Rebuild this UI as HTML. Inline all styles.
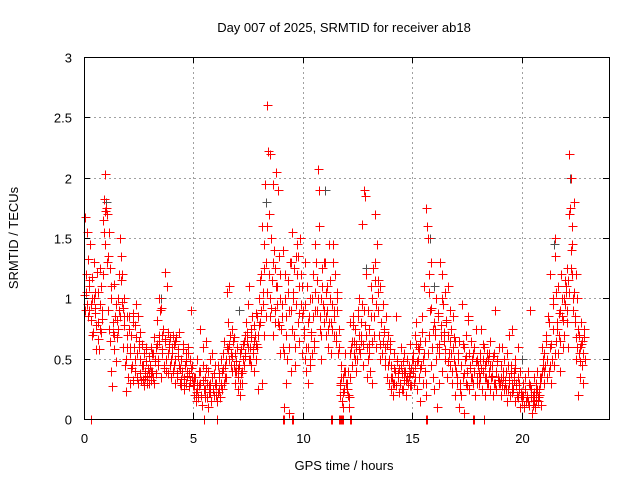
<!DOCTYPE html>
<html><head><meta charset="utf-8"><style>
body{margin:0;background:#fff;}
svg{display:block;font-family:"Liberation Sans",sans-serif;}
</style></head><body>
<svg id="chart" width="640" height="480" viewBox="0 0 640 480" xmlns="http://www.w3.org/2000/svg">
<rect x="0" y="0" width="640" height="480" fill="#fff"/>
<text x="344" y="32" font-size="13" text-anchor="middle" fill="#000">Day 007 of 2025, SRMTID for receiver ab18</text>
<text transform="translate(18,238) rotate(-90)" font-size="13" text-anchor="middle" fill="#000">SRMTID / TECUs</text>
<text x="344" y="470" font-size="13" text-anchor="middle" fill="#000">GPS time / hours</text>
<g id="grid"></g>
<g id="ticks"></g>
<g id="gray"></g>
<g id="pts" shape-rendering="crispEdges"></g>
<rect x="84.5" y="57.5" width="525" height="362" fill="none" stroke="#000" stroke-width="1"/>
</svg>
<script>
const xTicks=[0,5,10,15,20];
const yTicks=[0,0.5,1,1.5,2,2.5,3];
const yTickLabels=["0","0.5","1","1.5","2","2.5","3"];
const times=[
0.02,0.05,0.08,0.12,0.15,0.18,0.22,0.25,0.28,0.32,0.35,0.38,0.42,0.45,0.48,0.52,0.55,0.58,0.62,0.65,0.68,0.72,0.75,0.78,0.82,0.85,0.88,0.92,0.95,0.98,
1.02,1.05,1.08,1.12,1.15,1.18,1.22,1.25,1.28,1.32,1.35,1.38,1.42,1.45,1.48,1.52,1.55,1.58,1.62,1.65,1.68,1.72,1.75,1.78,1.82,1.85,1.88,1.92,1.95,1.98,
2.02,2.05,2.08,2.12,2.15,2.18,2.22,2.25,2.28,2.32,2.35,2.38,2.42,2.45,2.48,2.52,2.55,2.58,2.62,2.65,2.68,2.72,2.75,2.78,2.82,2.85,2.88,2.92,2.95,2.98,
3.02,3.05,3.08,3.12,3.15,3.18,3.22,3.25,3.28,3.32,3.35,3.38,3.42,3.45,3.48,3.52,3.55,3.58,3.62,3.65,3.68,3.72,3.75,3.78,3.82,3.85,3.88,3.92,3.95,3.98,
4.02,4.05,4.08,4.12,4.15,4.18,4.22,4.25,4.28,4.32,4.35,4.38,4.42,4.45,4.48,4.52,4.55,4.58,4.62,4.65,4.68,4.72,4.75,4.78,4.82,4.85,4.88,4.92,4.95,4.98,
5.02,5.05,5.08,5.12,5.15,5.18,5.22,5.25,5.28,5.32,5.35,5.38,5.42,5.45,5.48,5.52,5.55,5.58,5.62,5.65,5.68,5.72,5.75,5.78,5.82,5.85,5.88,5.92,5.95,5.98,
6.02,6.05,6.08,6.12,6.15,6.18,6.22,6.25,6.28,6.32,6.35,6.38,6.42,6.45,6.48,6.52,6.55,6.58,6.62,6.65,6.68,6.72,6.75,6.78,6.82,6.85,6.88,6.92,6.95,6.98,
7.02,7.05,7.08,7.12,7.15,7.18,7.22,7.25,7.28,7.32,7.35,7.38,7.42,7.45,7.48,7.52,7.55,7.58,7.62,7.65,7.68,7.72,7.75,7.78,7.82,7.85,7.88,7.92,7.95,7.98,
8.02,8.05,8.08,8.12,8.15,8.18,8.22,8.25,8.28,8.32,8.35,8.38,8.42,8.45,8.48,8.52,8.55,8.58,8.62,8.65,8.68,8.72,8.75,8.78,8.82,8.85,8.88,8.92,8.95,8.98,
9.02,9.05,9.08,9.12,9.15,9.18,9.22,9.25,9.28,9.32,9.35,9.38,9.42,9.45,9.48,9.52,9.55,9.58,9.62,9.65,9.68,9.72,9.75,9.78,9.82,9.85,9.88,9.92,9.95,9.98,
10.02,10.05,10.08,10.12,10.15,10.18,10.22,10.25,10.28,10.32,10.35,10.38,10.42,10.45,10.48,10.52,10.55,10.58,10.62,10.65,10.68,10.72,10.75,10.78,10.82,10.85,10.88,10.92,10.95,10.98,
11.02,11.05,11.08,11.12,11.15,11.18,11.22,11.25,11.28,11.32,11.35,11.38,11.42,11.45,11.48,11.52,11.55,11.58,11.62,11.65,11.68,11.72,11.75,11.78,11.82,11.85,11.88,11.92,11.95,11.98,
12.02,12.05,12.08,12.12,12.15,12.18,12.22,12.25,12.28,12.32,12.35,12.38,12.42,12.45,12.48,12.52,12.55,12.58,12.62,12.65,12.68,12.72,12.75,12.78,12.82,12.85,12.88,12.92,12.95,12.98,
13.02,13.05,13.08,13.12,13.15,13.18,13.22,13.25,13.28,13.32,13.35,13.38,13.42,13.45,13.48,13.52,13.55,13.58,13.62,13.65,13.68,13.72,13.75,13.78,13.82,13.85,13.88,13.92,13.95,13.98,
14.02,14.05,14.08,14.12,14.15,14.18,14.22,14.25,14.28,14.32,14.35,14.38,14.42,14.45,14.48,14.52,14.55,14.58,14.62,14.65,14.68,14.72,14.75,14.78,14.82,14.85,14.88,14.92,14.95,14.98,
15.02,15.05,15.08,15.12,15.15,15.18,15.22,15.25,15.28,15.32,15.35,15.38,15.42,15.45,15.48,15.52,15.55,15.58,15.62,15.65,15.68,15.72,15.75,15.78,15.82,15.85,15.88,15.92,15.95,15.98,
16.02,16.05,16.08,16.12,16.15,16.18,16.22,16.25,16.28,16.32,16.35,16.38,16.42,16.45,16.48,16.52,16.55,16.58,16.62,16.65,16.68,16.72,16.75,16.78,16.82,16.85,16.88,16.92,16.95,16.98,
17.02,17.05,17.08,17.12,17.15,17.18,17.22,17.25,17.28,17.32,17.35,17.38,17.42,17.45,17.48,17.52,17.55,17.58,17.62,17.65,17.68,17.72,17.75,17.78,17.82,17.85,17.88,17.92,17.95,17.98,
18.02,18.05,18.08,18.12,18.15,18.18,18.22,18.25,18.28,18.32,18.35,18.38,18.42,18.45,18.48,18.52,18.55,18.58,18.62,18.65,18.68,18.72,18.75,18.78,18.82,18.85,18.88,18.92,18.95,18.98,
19.02,19.05,19.08,19.12,19.15,19.18,19.22,19.25,19.28,19.32,19.35,19.38,19.42,19.45,19.48,19.52,19.55,19.58,19.62,19.65,19.68,19.72,19.75,19.78,19.82,19.85,19.88,19.92,19.95,19.98,
20.02,20.05,20.08,20.12,20.15,20.18,20.22,20.25,20.28,20.32,20.35,20.38,20.42,20.45,20.48,20.52,20.55,20.58,20.62,20.65,20.68,20.72,20.75,20.78,20.82,20.85,20.88,20.92,20.95,20.98,
21.02,21.05,21.08,21.12,21.15,21.18,21.22,21.25,21.28,21.32,21.35,21.38,21.42,21.45,21.48,21.52,21.55,21.58,21.62,21.65,21.68,21.72,21.75,21.78,21.82,21.85,21.88,21.92,21.95,21.98,
22.0,22.03,22.06,22.09,22.12,22.15,22.18,22.21,22.24,22.27,22.3,22.33,22.36,22.39,22.42,22.45,22.48,22.51,22.54,22.57,22.6,22.63,22.66,22.69,22.72,22.75,22.78,22.81,22.85,22.9,
0.3,0.33,5.5,6.1,9.1,9.15,9.5,9.55,11.28,11.33,11.65,11.7,11.75,11.8,11.85,12.15,12.2,15.65,15.7,17.8,17.85,18.3
];
const values=[
1.03,1.67,1.2,1.55,0.95,1.33,1.1,0.9,1.45,0.82,1.0,1.18,0.72,1.3,0.92,1.05,0.58,1.22,0.8,0.66,0.58,1.25,0.75,1.1,0.83,1.2,1.65,1.82,2.03,1.72,
1.75,1.7,1.35,1.55,0.75,1.25,0.4,1.0,0.27,0.72,1.12,0.58,0.85,0.95,0.48,0.82,0.75,1.2,0.9,1.5,1.35,0.97,1.2,0.6,0.85,1.0,0.45,0.23,0.6,0.85,
0.35,0.85,0.55,0.3,0.7,0.45,0.88,0.32,0.6,0.78,0.4,0.95,0.55,0.3,0.85,0.65,0.38,0.5,0.32,0.62,0.45,0.28,0.55,0.35,0.48,0.6,0.3,0.42,0.52,0.38,
0.45,0.32,0.6,0.4,0.55,0.3,0.68,0.5,0.38,0.62,0.82,0.45,1.0,0.65,0.9,0.35,0.7,0.55,0.75,0.42,0.65,1.22,0.5,1.1,0.38,0.72,0.6,0.45,0.68,0.35,
0.55,0.7,0.4,0.62,0.3,0.5,0.68,0.35,0.58,0.45,0.72,0.3,0.28,0.5,0.4,0.62,0.35,0.25,0.45,0.55,0.3,0.4,0.6,0.27,0.38,0.5,0.9,0.35,0.45,0.3,
0.28,0.2,0.35,0.15,0.5,0.25,0.18,0.4,0.3,0.75,0.2,0.12,0.45,0.6,0.25,0.35,0.18,0.65,0.3,0.1,0.4,0.22,0.5,0.3,0.15,0.55,0.25,0.38,0.2,0.45,
0.2,0.3,0.15,0.45,0.25,0.35,0.18,0.5,0.28,0.4,0.55,0.3,0.65,0.45,0.35,0.6,1.05,0.8,0.5,1.1,0.7,0.55,0.4,0.75,0.65,0.45,0.3,0.55,0.4,0.6,
0.35,0.25,0.45,0.2,0.55,0.38,0.3,0.5,0.62,0.45,0.7,0.55,0.8,0.65,0.95,0.5,1.1,0.6,0.75,0.45,0.85,0.55,0.65,0.4,0.7,0.5,0.88,0.6,0.25,0.78,
1.0,0.8,1.2,0.3,1.6,0.95,1.45,0.7,1.95,1.3,2.6,1.05,2.22,1.7,0.85,2.2,1.5,1.15,0.7,1.95,1.4,0.9,1.25,2.05,1.1,0.8,1.9,1.35,0.55,1.0,
0.75,0.95,1.4,0.55,0.1,1.2,0.3,0.85,0.5,1.05,0.6,0.05,1.3,0.4,0.9,1.55,1.0,1.25,0.7,0.45,1.35,1.45,1.2,0.8,1.1,0.65,1.5,0.95,0.55,0.85,
0.9,0.75,1.3,0.5,0.4,1.1,0.3,0.6,0.85,0.45,1.0,0.7,0.55,1.2,0.85,0.6,1.05,1.45,1.3,0.9,2.07,1.6,1.9,0.75,1.0,0.5,1.25,0.95,1.3,0.8,
1.3,0.7,1.05,0.9,0.6,1.45,0.8,1.15,0.55,0.95,0.75,1.45,0.7,0.85,1.2,0.65,0.9,1.0,0.55,0.75,0.3,0.2,0.45,0.15,0.35,0.1,0.25,0.4,0.55,0.3,
0.25,0.4,0.2,0.1,0.35,0.8,0.6,0.45,0.85,0.65,0.55,0.75,0.4,0.6,0.5,0.9,0.7,1.0,0.55,0.8,0.65,1.62,0.45,0.9,1.9,1.85,0.7,0.35,0.6,0.5,
0.75,0.55,0.4,1.1,0.65,0.3,1.25,0.85,1.7,1.15,0.6,1.45,1.05,0.9,0.7,0.5,1.1,0.8,0.55,0.95,0.65,0.75,0.45,0.6,0.85,0.35,0.7,0.5,0.3,0.65,
0.25,0.45,0.35,0.2,0.55,0.3,0.4,0.85,0.28,0.5,0.35,0.22,0.42,0.3,0.6,0.38,0.25,0.48,0.32,0.55,0.4,0.2,0.35,0.5,0.3,0.45,0.62,0.38,0.28,0.5,
0.4,0.55,0.3,0.7,0.45,0.8,0.25,0.5,0.6,0.35,0.15,0.65,0.45,0.85,0.3,0.55,1.1,0.4,0.2,1.75,1.6,1.5,1.2,0.7,0.9,0.45,1.3,0.6,0.35,0.8,
0.25,0.75,1.0,0.1,0.6,0.85,0.3,0.55,1.3,0.7,1.2,0.4,0.95,0.65,1.05,0.5,0.8,0.35,0.7,1.1,0.55,0.9,0.45,0.75,0.3,0.6,0.85,0.5,0.2,0.65,
0.4,0.3,0.55,0.1,0.65,0.25,0.45,0.2,0.95,0.35,0.6,0.05,0.5,0.3,0.7,0.4,0.85,0.55,0.25,0.45,0.65,0.35,0.5,0.3,0.6,0.4,0.2,0.75,0.5,0.35,
0.45,0.3,0.55,0.35,0.75,0.25,0.5,0.4,0.6,0.2,0.45,0.35,0.55,0.3,0.5,0.4,0.25,0.65,0.35,0.45,0.2,0.55,0.3,0.9,0.4,0.25,0.5,0.35,0.6,0.3,
0.3,0.45,0.2,0.6,0.35,0.25,0.5,0.3,0.4,0.15,0.55,0.25,0.7,0.35,0.2,0.45,0.3,0.75,0.25,0.4,0.15,0.5,0.3,0.2,0.35,0.6,0.25,0.1,0.4,0.2,
0.15,0.3,0.2,0.1,0.25,0.35,0.15,0.2,0.4,0.12,0.3,0.9,0.18,0.25,0.05,0.2,0.35,0.15,0.1,0.3,0.22,0.4,0.15,0.25,0.2,0.35,0.12,0.6,0.4,0.5,
0.3,0.55,0.45,0.7,0.35,0.5,0.85,0.4,1.2,0.6,0.3,0.5,0.75,1.0,0.45,1.5,1.35,0.65,0.8,0.55,1.1,0.7,0.9,0.4,1.2,0.85,0.6,1.0,0.7,1.15,
0.95,1.1,0.8,1.25,0.6,1.05,2.2,1.75,2.0,1.4,1.6,1.2,0.9,1.8,1.05,0.85,1.2,0.5,1.0,0.75,0.2,0.55,0.35,0.6,0.8,0.45,0.65,0.3,0.75,0.5,
0,0,0,0,0,0,0,0,0,0,0,0,0,0,0,0,0,0,0,0,0,0
];
const times2=[
0.04,0.11,0.17,0.24,0.31,0.37,0.44,0.51,0.57,0.64,0.71,0.77,0.84,0.9,0.97,
1.04,1.11,1.17,1.24,1.31,1.37,1.44,1.51,1.57,1.64,1.71,1.77,1.84,1.9,1.97,
2.04,2.11,2.17,2.24,2.31,2.37,2.44,2.51,2.57,2.64,2.71,2.77,2.84,2.9,2.97,
3.04,3.11,3.17,3.24,3.31,3.37,3.44,3.51,3.57,3.64,3.71,3.77,3.84,3.9,3.97,
4.04,4.11,4.17,4.24,4.31,4.37,4.44,4.51,4.57,4.64,4.71,4.77,4.84,4.9,4.97,
5.04,5.11,5.17,5.24,5.31,5.37,5.44,5.51,5.57,5.64,5.71,5.77,5.84,5.9,5.97,
6.04,6.11,6.17,6.24,6.31,6.37,6.44,6.51,6.57,6.64,6.71,6.77,6.84,6.9,6.97,
7.04,7.11,7.17,7.24,7.31,7.37,7.44,7.51,7.57,7.64,7.71,7.77,7.84,7.9,7.97,
8.04,8.11,8.17,8.24,8.31,8.37,8.44,8.51,8.57,8.64,8.71,8.77,8.84,8.9,8.97,
9.04,9.11,9.17,9.24,9.31,9.37,9.44,9.51,9.57,9.64,9.71,9.77,9.84,9.9,9.97,
10.04,10.11,10.17,10.24,10.31,10.37,10.44,10.51,10.57,10.64,10.71,10.77,10.84,10.9,10.97,
11.04,11.11,11.17,11.24,11.31,11.37,11.44,11.51,11.57,11.64,11.71,11.77,11.84,11.9,11.97,
12.04,12.11,12.17,12.24,12.31,12.37,12.44,12.51,12.57,12.64,12.71,12.77,12.84,12.9,12.97,
13.04,13.11,13.17,13.24,13.31,13.37,13.44,13.51,13.57,13.64,13.71,13.77,13.84,13.9,13.97,
14.04,14.11,14.17,14.24,14.31,14.37,14.44,14.51,14.57,14.64,14.71,14.77,14.84,14.9,14.97,
15.04,15.11,15.17,15.24,15.31,15.37,15.44,15.51,15.57,15.64,15.71,15.77,15.84,15.9,15.97,
16.04,16.11,16.17,16.24,16.31,16.37,16.44,16.51,16.57,16.64,16.71,16.77,16.84,16.9,16.97,
17.04,17.11,17.17,17.24,17.31,17.37,17.44,17.51,17.57,17.64,17.71,17.77,17.84,17.9,17.97,
18.04,18.11,18.17,18.24,18.31,18.37,18.44,18.51,18.57,18.64,18.71,18.77,18.84,18.9,18.97,
19.04,19.11,19.17,19.24,19.31,19.37,19.44,19.51,19.57,19.64,19.71,19.77,19.84,19.9,19.97,
20.04,20.11,20.17,20.24,20.31,20.37,20.44,20.51,20.57,20.64,20.71,20.77,20.84,20.9,20.97,
21.04,21.11,21.17,21.24,21.31,21.37,21.44,21.51,21.57,21.64,21.71,21.77,21.84,21.9,21.97,
22.02,22.07,22.13,22.19,22.25,22.31,22.37,22.43,22.49,22.55,22.61,22.67,22.73,22.79,22.87
];
const values2=[
0.9,1.05,0.85,1.15,0.95,0.7,1.0,0.88,0.78,1.05,0.95,0.72,0.9,1.55,1.45,
1.3,0.9,0.65,1.1,0.8,0.7,0.95,0.68,1.0,0.85,1.15,0.92,0.78,0.5,0.7,
0.75,0.6,0.42,0.8,0.5,0.68,0.35,0.6,0.72,0.45,0.33,0.4,0.58,0.36,0.3,
0.4,0.55,0.35,0.48,0.6,0.5,0.7,0.92,0.58,0.45,0.66,0.4,0.55,0.62,0.5,
0.6,0.45,0.65,0.38,0.52,0.42,0.33,0.58,0.3,0.48,0.36,0.55,0.32,0.42,0.28,
0.35,0.22,0.3,0.28,0.4,0.2,0.32,0.25,0.42,0.18,0.28,0.22,0.35,0.25,0.3,
0.28,0.22,0.38,0.3,0.25,0.42,0.35,0.5,0.58,0.62,0.45,0.52,0.68,0.4,0.48,
0.42,0.3,0.58,0.4,0.65,0.52,0.72,0.6,0.5,0.68,0.58,0.78,0.62,0.85,0.7,
1.15,0.9,1.05,1.25,0.85,1.6,1.2,1.0,0.92,1.3,0.8,1.1,0.95,0.78,1.2,
0.85,0.6,1.0,0.7,1.15,0.9,1.3,0.75,1.05,0.6,0.95,1.35,0.88,1.2,1.1,
0.7,0.95,0.6,0.8,0.5,0.72,1.0,0.65,0.9,1.15,1.0,0.85,0.7,1.1,0.9,
0.85,1.1,0.75,1.0,0.8,1.3,0.9,0.7,1.05,0.6,0.28,0.35,0.22,0.4,0.3,
0.3,0.18,0.55,0.65,0.78,0.5,0.62,0.85,0.58,0.7,0.95,0.62,0.78,1.2,0.9,
0.62,0.85,1.0,0.7,1.3,0.95,1.15,0.62,0.8,0.55,0.72,0.5,0.62,0.45,0.58,
0.35,0.3,0.42,0.28,0.48,0.38,0.3,0.45,0.25,0.4,0.32,0.5,0.36,0.28,0.42,
0.5,0.35,0.62,0.48,0.58,0.42,0.72,0.5,0.65,0.3,0.55,1.05,0.92,0.6,0.75,
0.7,0.5,0.88,0.62,0.78,1.0,0.72,0.58,0.82,0.48,0.65,0.55,0.4,0.68,0.45,
0.35,0.5,0.3,0.45,0.62,0.38,0.52,0.28,0.82,0.42,0.35,0.55,0.4,0.48,0.3,
0.38,0.5,0.42,0.62,0.35,0.48,0.3,0.55,0.45,0.36,0.52,0.3,0.4,0.48,0.32,
0.35,0.28,0.4,0.32,0.25,0.45,0.3,0.38,0.22,0.32,0.42,0.28,0.18,0.3,0.22,
0.2,0.12,0.25,0.18,0.15,0.28,0.2,0.12,0.22,0.16,0.25,0.18,0.3,0.35,0.45,
0.4,0.65,0.5,0.8,0.45,0.62,0.95,0.55,1.05,0.75,0.88,0.65,1.0,0.82,0.95,
1.05,0.9,1.15,1.7,1.25,1.45,1.0,0.8,0.68,0.6,0.7,0.48,0.62,0.55,0.68
];
const grayTimes=[0.1,1.0,3.5,8.3,11.0,15.8,16.0,20.0,21.5,22.2,12.9,7.1];
const grayValues=[1.2,1.8,1.0,1.8,1.9,1.5,1.1,0.5,1.45,2.0,1.25,0.9];

const X0=84,X1=609,Y0=419,Y1=57,XMAX=24,YMAX=3;
function xs(t){return X0+(X1-X0)*t/XMAX;}
function ys(v){return Y0-(Y0-Y1)*v/YMAX;}
const NS="http://www.w3.org/2000/svg";
const grid=document.getElementById('grid'),ticks=document.getElementById('ticks');
function line(g,x1,y1,x2,y2,st,dash){const l=document.createElementNS(NS,'line');l.setAttribute('x1',x1);l.setAttribute('y1',y1);l.setAttribute('x2',x2);l.setAttribute('y2',y2);l.setAttribute('stroke',st);l.setAttribute('stroke-width',1);if(dash)l.setAttribute('stroke-dasharray',dash);g.appendChild(l);return l;}
xTicks.forEach(t=>{const x=Math.round(xs(t))+0.5;
 if(t>0){const gl=line(grid,x,Y1,x,Y0,'#a0a0a0','2,3');
 
 }
 line(ticks,x,Y0,x,Y0-6,'#000');line(ticks,x,Y1,x,Y1+6,'#000');
 const tx=document.createElementNS(NS,'text');
 
 
 tx.setAttribute('x',x);tx.setAttribute('y',443);tx.setAttribute('font-size','13');tx.setAttribute('text-anchor','middle');tx.textContent=String(t);ticks.appendChild(tx);});
yTicks.forEach((v,i)=>{const y=Math.round(ys(v))+0.5;
 if(v>0&&v<3){const gl=line(grid,X0,y,X1,y,'#a0a0a0','2,3');
 
 }
 line(ticks,X0,y,X0+6,y,'#000');line(ticks,X1,y,X1-6,y,'#000');
 const tx=document.createElementNS(NS,'text');
 
 
 tx.setAttribute('x',72);tx.setAttribute('y',y+5);tx.setAttribute('font-size','13');tx.setAttribute('text-anchor','end');tx.textContent=yTickLabels[i];ticks.appendChild(tx);});
function plus(g,t,v,col){const x=Math.round(xs(t))+0.5,y=Math.round(ys(v))+0.5;
 const p=document.createElementNS(NS,'path');
 
 
 p.setAttribute('d','M'+(x-4)+' '+y+'H'+(x+5)+'M'+x+' '+(y-4)+'V'+(y+5));p.setAttribute('stroke',col);p.setAttribute('stroke-width','1');p.setAttribute('fill','none');g.appendChild(p);}
const gg=document.getElementById('gray');grayTimes.forEach((t,i)=>plus(gg,t,grayValues[i],'#505050'));
const pg=document.getElementById('pts');
times2.forEach((t,i)=>plus(pg,t,values2[i],'#ff0000'));
times.forEach((t,i)=>plus(pg,t,values[i],'#ff0000'));
</script>
</body></html>
